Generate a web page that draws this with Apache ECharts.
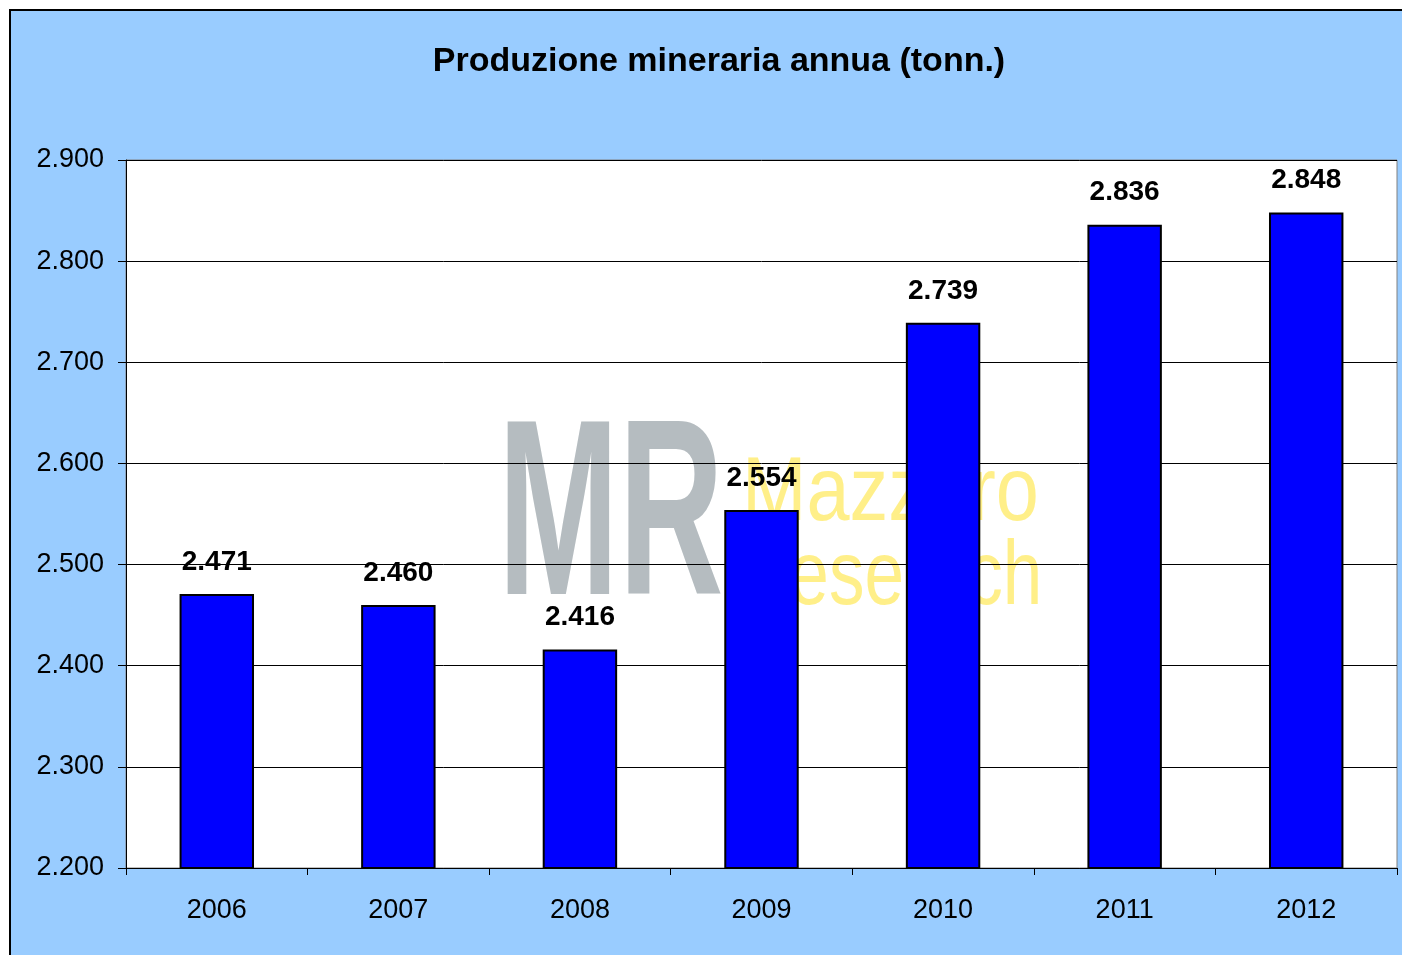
<!DOCTYPE html>
<html>
<head>
<meta http-equiv="content-type" content="text/html; charset=utf-8"/>
<title>Produzione mineraria annua</title>
<style type="text/css">
body,html{width:100%;height:100%;margin:0;background:#fff;font-family:"Liberation Sans"}
#panel{position:absolute;left:9px;top:9px;width:1393px;height:946px;background:#99CCFF;border-left:2px solid #000;border-top:2px solid #000;box-sizing:border-box}
#chart{position:absolute;left:0;top:0;width:1402px;height:955px}
</style>
<script src="https://cdn.jsdelivr.net/npm/echarts@6/dist/echarts.min.js"></script>
</head>
<body>
<div id="panel"></div>
<div id="chart"></div>
<script>
	// dati
	var anni = ["2006", "2007", "2008", "2009", "2010", "2011", "2012"];
	var produzione = [2471, 2460, 2416, 2554, 2739, 2836, 2848];
	var titolo = "Produzione mineraria annua (tonn.)";

	// separatore migliaia all'italiana
	function fmt(v) {
		return String(v).replace(/\B(?=(\d{3})+(?!\d))/g, ".");
	}

	var chart = echarts.init(document.getElementById("chart"));
	var font = "Liberation Sans";
	var option = {
		backgroundColor: "transparent",
		animation: false,
		title: {
			text: titolo,
			left: 714,
			top: 40,
			textAlign: "center",
			textStyle: {fontFamily: font, fontSize: 34, fontWeight: "bold", color: "#000"}
		},
		grid: {
			left: 126, right: 5, top: 160, bottom: 87,
			show: true, backgroundColor: "#fff", borderColor: "#808080", borderWidth: 1,
			containLabel: false
		},
		// logo in trasparenza
		graphic: [
			{type: "text", z: 1, silent: true, x: 498, y: 400, scaleX: 0.58,
				style: {text: "MR", font: "bold 250px Liberation Sans", fill: "#a3abb0", opacity: 0.8, textVerticalAlign: "top"}},
			{type: "text", z: 1, silent: true, x: 742, y: 450, scaleX: 0.86,
				style: {text: "Mazzaro", font: "90px Liberation Sans", fill: "#ffe43a", opacity: 0.6, textVerticalAlign: "top"}},
			{type: "text", z: 1, silent: true, x: 738, y: 534, scaleX: 0.79,
				style: {text: "Research", font: "90px Liberation Sans", fill: "#ffe43a", opacity: 0.6, textVerticalAlign: "top"}}
		],
		xAxis: {
			type: "category",
			data: anni,
			z: 2,
			axisLine: {lineStyle: {color: "#000", width: 1}},
			axisTick: {show: true, length: 7, lineStyle: {color: "#000"}},
			axisLabel: {fontFamily: font, fontSize: 27, color: "#000", margin: 29}
		},
		yAxis: {
			type: "value",
			min: 2200, max: 2900, interval: 100,
			z: 2,
			axisLine: {show: true, lineStyle: {color: "#000", width: 1}},
			axisTick: {show: true, length: 8, lineStyle: {color: "#000"}},
			axisLabel: {fontFamily: font, fontSize: 27, color: "#000", margin: 22, formatter: fmt},
			splitLine: {lineStyle: {color: "#000", width: 1}}
		},
		series: [{
			type: "bar",
			z: 3,
			data: produzione,
			barWidth: "41%",
			itemStyle: {color: "#0000FF", borderColor: "#000", borderWidth: 2},
			label: {
				show: true, position: "top", distance: 18,
				fontFamily: font, fontSize: 28, fontWeight: "bold", color: "#000",
				formatter: function (p) { return fmt(p.value); }
			}
		}]
	};
	chart.setOption(option);
</script>
</body>
</html>
